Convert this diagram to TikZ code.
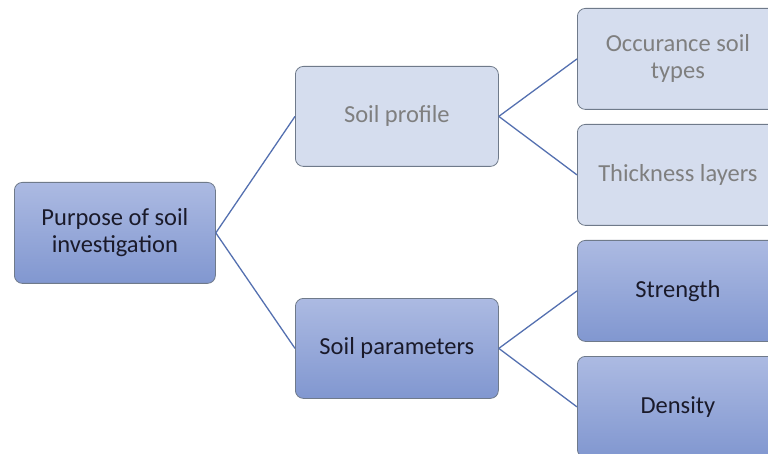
\documentclass[tikz,border=0pt]{standalone}
\usepackage{fontspec}
\setmainfont{Carlito}
\begin{document}
\begin{tikzpicture}[x=1pt,y=-1pt,
  boxbase/.style={draw=boxline,line width=0.8pt,rounded corners=8pt,minimum width=201pt,minimum height=101pt,anchor=north west,inner sep=0pt,align=center,font=\fontsize{24.5}{27}\selectfont},
  darkbox/.style={boxbase,top color=dtop,bottom color=dbot,text=dtext},
  lightbox/.style={boxbase,fill=lfill,text=ltext},
  conn/.style={draw=connc,line width=1.3pt}]
\definecolor{boxline}{HTML}{6F7A8A}
\definecolor{dtop}{HTML}{ACBAE2}
\definecolor{dbot}{HTML}{8197D0}
\definecolor{dtext}{HTML}{1A1A2A}
\definecolor{lfill}{HTML}{D5DDEE}
\definecolor{ltext}{HTML}{7F7F7F}
\definecolor{connc}{HTML}{5470B0}
\useasboundingbox (0,0) rectangle (768,454);
\clip (0,0) rectangle (768,454);
\node[darkbox] (root) at (14,182) {Purpose of soil\\investigation};
\node[lightbox,minimum height=100pt,minimum width=203pt] (prof) at (295,66) {Soil profile};
\node[darkbox,minimum height=100pt,minimum width=203pt] (param) at (295,298) {Soil parameters};
\node[lightbox] (occ) at (577,8) {Occurance soil\\types};
\node[lightbox] (thick) at (577,124) {Thickness layers};
\node[darkbox] (str) at (577,240) {Strength};
\node[darkbox] (den) at (577,356) {Density};
\draw[conn] (root.east) -- (prof.west);
\draw[conn] (root.east) -- (param.west);
\draw[conn] (prof.east) -- (occ.west);
\draw[conn] (prof.east) -- (thick.west);
\draw[conn] (param.east) -- (str.west);
\draw[conn] (param.east) -- (den.west);
\end{tikzpicture}
\end{document}
